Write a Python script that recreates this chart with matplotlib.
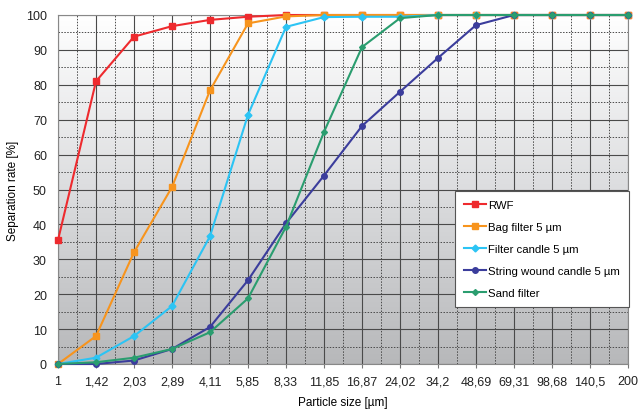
import numpy as np
import matplotlib
matplotlib.use("Agg")
from matplotlib import pyplot as plt
from matplotlib.colors import LinearSegmentedColormap

plt.rcParams['font.family'] = ['Liberation Sans', 'DejaVu Sans']

sizes = ["1", "1,42", "2,03", "2,89", "4,11", "5,85", "8,33", "11,85", "16,87",
         "24,02", "34,2", "48,69", "69,31", "98,68", "140,5", "200"]

rwf = [35.5, 81, 93.8, 96.8, 98.6, 99.5, 100, 100, 100, 100, 100, 100, 100, 100, 100, 100]
bag = [0, 8, 32, 50.7, 78.4, 97.6, 99.6, 100, 100, 100, 100, 100, 100, 100, 100, 100]
candle = [0, 1.8, 8, 16.6, 36.6, 71.4, 96.6, 99.4, 99.5, 99.5, 100, 100, 100, 100, 100, 100]
string_wound = [0, 0, 1, 4.3, 10.6, 24, 40.3, 54, 68.2, 78, 87.7, 97.1, 100, 100, 100, 100]
sand = [0, 0.5, 1.8, 4.3, 9.1, 18.8, 39.3, 66.5, 90.8, 99.1, 100, 100, 100, 100, 100, 100]

series = [
    ("RWF", rwf, "#ee2a2e", "s", 5),
    ("Bag filter 5 µm", bag, "#f7941d", "s", 5),
    ("Filter candle 5 µm", candle, "#2cc4f4", "D", 3.5),
    ("String wound candle 5 µm", string_wound, "#3b3d9c", "o", 4),
    ("Sand filter", sand, "#2a9d6f", "D", 3),
]

fig = plt.figure(figsize=(6.43, 4.10), dpi=100)
ax = fig.add_axes([58/643, 45/410, 570/643, 349/410])

x = np.arange(len(sizes))

# gradient background, white at top
cmap = LinearSegmentedColormap.from_list("bg", ["#ffffff", "#dcdddf", "#b7b8ba"])
grad = np.linspace(0, 1, 256).reshape(-1, 1)
ax.imshow(grad, cmap=cmap, aspect="auto", origin="upper",
          extent=[0, len(sizes) - 1, 0, 100], zorder=0)

# grid
for xi in x:
    ax.axvline(xi, color="#4a4a4a", lw=0.8, zorder=1)
for xi in x[:-1] + 0.5:
    ax.axvline(xi, color="#4a4a4a", lw=0.7, ls=(0, (1.5, 1.5)), zorder=1)
for yi in range(0, 101, 10):
    ax.axhline(yi, color="#4a4a4a", lw=0.8, zorder=1)
for yi in range(5, 100, 10):
    ax.axhline(yi, color="#4a4a4a", lw=0.7, ls=(0, (1.5, 1.5)), zorder=1)

for name, vals, col, mk, ms in series:
    ax.plot(x, vals, color=col, marker=mk, markersize=ms, lw=1.5, label=name,
            clip_on=False, zorder=3)

ax.set_xlim(0, len(sizes) - 1)
ax.set_ylim(0, 100)
ax.set_xticks(x)
ax.set_xticklabels(sizes)
ax.set_yticks(range(0, 101, 10))
ax.tick_params(axis="both", labelsize=9, colors="#222222", color="#777777")
ax.tick_params(axis="x", length=3, pad=5)
ax.tick_params(axis="y", length=0, pad=8)
for s in ax.spines.values():
    s.set_color("#888888")
    s.set_linewidth(0.8)

ax.set_xlabel("Particle size [µm]", fontsize=8.5, labelpad=6.5)
ax.set_ylabel("Separation rate [%]", fontsize=8.5, labelpad=5)

leg = ax.legend(loc="lower right", bbox_to_anchor=(1.002, 0.163), fontsize=8.2,
                frameon=True, fancybox=False, edgecolor="#555555", framealpha=1,
                borderpad=0.8, labelspacing=1.05, handlelength=2.0, handletextpad=0.15,
                borderaxespad=0)
leg.get_frame().set_linewidth(0.8)
leg.set_zorder(5)

plt.savefig("out.png", dpi=100)
